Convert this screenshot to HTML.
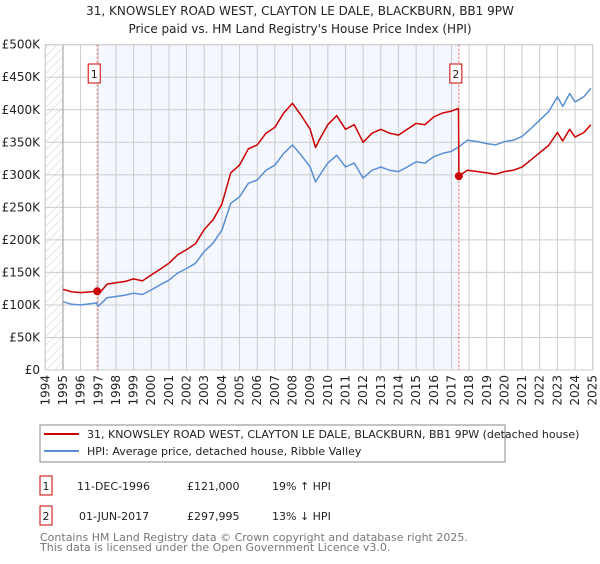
<!DOCTYPE html>
<html><head><meta charset="utf-8"><style>
body{margin:0;background:#fff;width:600px;height:560px;overflow:hidden;font-family:"DejaVu Sans","Liberation Sans",sans-serif;}
svg text{font-family:"DejaVu Sans","Liberation Sans",sans-serif;}
</style></head><body>
<svg id="chart" width="600" height="560" xmlns="http://www.w3.org/2000/svg">
<defs><pattern id="hatch" width="6" height="6" patternUnits="userSpaceOnUse" patternTransform="rotate(45)"><line x1="0" y1="0" x2="0" y2="6" stroke="#ccc" stroke-width="1"/></pattern></defs>
<text x="300" y="15" text-anchor="middle" font-size="12" fill="#222">31, KNOWSLEY ROAD WEST, CLAYTON LE DALE, BLACKBURN, BB1 9PW</text>
<text x="300" y="33" text-anchor="middle" font-size="12" fill="#222">Price paid vs. HM Land Registry's House Price Index (HPI)</text>
<g id="plot"></g>
<rect x="40" y="425" width="465" height="37" fill="none" stroke="#888"/>
<line x1="44" y1="434" x2="79" y2="434" stroke="#cc0000" stroke-width="2"/>
<text x="87" y="438" font-size="11" fill="#222">31, KNOWSLEY ROAD WEST, CLAYTON LE DALE, BLACKBURN, BB1 9PW (detached house)</text>
<line x1="44" y1="451" x2="79" y2="451" stroke="#5b8fd4" stroke-width="2"/>
<text x="87" y="455" font-size="11" fill="#222">HPI: Average price, detached house, Ribble Valley</text>
<g>
<rect x="40" y="476" width="12" height="19" fill="none" stroke="#cc0000"/>
<text x="46" y="490" text-anchor="middle" font-size="11" fill="#222">1</text>
<text x="77" y="490" font-size="11" fill="#222">11-DEC-1996</text>
<text x="187" y="490" font-size="11" fill="#222">£121,000</text>
<text x="272" y="490" font-size="11" fill="#222">19% ↑ HPI</text></g>
<g>
<rect x="40" y="506" width="12" height="19" fill="none" stroke="#cc0000"/>
<text x="46" y="520" text-anchor="middle" font-size="11" fill="#222">2</text>
<text x="79" y="520" font-size="11" fill="#222">01-JUN-2017</text>
<text x="187" y="520" font-size="11" fill="#222">£297,995</text>
<text x="272" y="520" font-size="11" fill="#222">13% ↓ HPI</text></g>
<text x="40" y="541" font-size="11" fill="#777">Contains HM Land Registry data © Crown copyright and database right 2025.</text>
<text x="40" y="551" font-size="11" fill="#777">This data is licensed under the Open Government Licence v3.0.</text>
</svg>
<script>
const hpiDates=[1995.0,1995.5,1996.0,1996.9,1997.0,1997.5,1998.0,1998.5,1999.0,1999.5,2000.0,2000.5,2001.0,2001.5,2002.0,2002.5,2003.0,2003.5,2004.0,2004.5,2005.0,2005.5,2006.0,2006.5,2007.0,2007.5,2008.0,2008.5,2009.0,2009.3,2009.6,2010.0,2010.5,2011.0,2011.5,2012.0,2012.5,2013.0,2013.5,2014.0,2014.5,2015.0,2015.5,2016.0,2016.5,2017.0,2017.42,2017.9,2018.5,2019.0,2019.5,2020.0,2020.5,2021.0,2021.5,2022.0,2022.5,2023.0,2023.3,2023.7,2024.0,2024.5,2024.9];
const hpiValues=[105,101,100,103,98,111,113,115,118,116,123,131,138,149,156,164,182,195,215,256,266,287,292,307,315,333,346,330,312,289,302,318,330,312,318,295,307,312,307,305,312,320,318,328,333,336,343,353,351,348,346,351,353,359,371,384,397,420,405,425,412,420,433];
const propDates=[1995.0,1995.5,1996.0,1996.94,1997.0,1997.5,1998.0,1998.5,1999.0,1999.5,2000.0,2000.5,2001.0,2001.5,2002.0,2002.5,2003.0,2003.5,2004.0,2004.5,2005.0,2005.5,2006.0,2006.5,2007.0,2007.5,2008.0,2008.5,2009.0,2009.3,2009.6,2010.0,2010.5,2011.0,2011.5,2012.0,2012.5,2013.0,2013.5,2014.0,2014.5,2015.0,2015.5,2016.0,2016.5,2017.0,2017.40,2017.42,2017.9,2018.5,2019.0,2019.5,2020.0,2020.5,2021.0,2021.5,2022.0,2022.5,2023.0,2023.3,2023.7,2024.0,2024.5,2024.9];
const propValues=[124,120,119,121,116,132,134,136,140,137,146,155,164,177,185,194,216,231,255,303,315,340,346,364,373,395,410,391,370,342,358,377,391,370,377,350,364,370,364,361,370,379,377,389,395,398,402,298,307,305,303,301,305,307,312,323,334,345,365,352,370,358,365,377];
const saleDates=[1996.94,2017.42];
const salePrices=[121,297.995];
const saleLabels=["1","2"];
const yTicks=[0,50,100,150,200,250,300,350,400,450,500];
const yTickLabels=["£0","£50K","£100K","£150K","£200K","£250K","£300K","£350K","£400K","£450K","£500K"];
const xYears=[1994,1995,1996,1997,1998,1999,2000,2001,2002,2003,2004,2005,2006,2007,2008,2009,2010,2011,2012,2013,2014,2015,2016,2017,2018,2019,2020,2021,2022,2023,2024,2025];

const L=45.3,R=592.7,T=44.7,B=370;
const x=v=>L+(v-1994)/31*(R-L);
const y=v=>B-v/500*(B-T);
const NS="http://www.w3.org/2000/svg";
const g=document.getElementById('plot');
function mk(tag,attrs,parent){const e=document.createElementNS(NS,tag);for(const k in attrs)e.setAttribute(k,attrs[k]);(parent||g).appendChild(e);return e;}

let e=mk('rect',{x:x(saleDates[0]),y:T,width:x(saleDates[1])-x(saleDates[0]),height:B-T,fill:'#f4f7fe'});


e=mk('rect',{x:L,y:T,width:x(1995)-L,height:B-T,fill:'url(#hatch)'});



yTicks.forEach((t,i)=>{
  let ln=mk('line',{x1:L,x2:R,y1:y(t),y2:y(t),stroke:'#cccccc','stroke-width':1});
  
  
  let tx=mk('text',{x:40,y:y(t)+4,'text-anchor':'end','font-size':12,fill:'#222'});
  tx.textContent=yTickLabels[i];
  
  
});
xYears.forEach(yr=>{
  let ln=mk('line',{x1:x(yr),x2:x(yr),y1:T,y2:B,stroke:'#cccccc','stroke-width':1});
  
  
  let tx=mk('text',{x:0,y:0,'text-anchor':'end','font-size':12,fill:'#222',transform:`translate(${x(yr)+4},375) rotate(-90)`});
  tx.textContent=yr;
  
  
});
e=mk('line',{x1:x(1995),x2:x(1995),y1:T,y2:B,stroke:'#999'});


e=mk('rect',{x:L,y:T,width:R-L,height:B-T,fill:'none',stroke:'#cccccc'});



saleDates.forEach((d,i)=>{
  let ln=mk('line',{x1:x(d),x2:x(d),y1:T,y2:B,stroke:'#e06060','stroke-dasharray':'2,2','stroke-width':1});
  
  
});

const pts=(ds,vs)=>ds.map((d,i)=>x(d).toFixed(1)+','+y(vs[i]).toFixed(1)).join(' ');
e=mk('polyline',{points:pts(hpiDates,hpiValues),fill:'none',stroke:'#5b8fd4','stroke-width':1.5,'stroke-linejoin':'round'});


e=mk('polyline',{points:pts(propDates,propValues),fill:'none',stroke:'#cc0000','stroke-width':1.5,'stroke-linejoin':'round'});



saleDates.forEach((d,i)=>{
  let c=mk('circle',{cx:x(d),cy:y(salePrices[i]),r:4,fill:'#cc0000'});
  
  
  let bx=x(d)-3;
  let r=mk('rect',{x:bx-6,y:64,width:12,height:19,fill:'#fff',stroke:'#cc0000'});
  
  
  let t=mk('text',{x:bx,y:78,'text-anchor':'middle','font-size':11,fill:'#222'});
  t.textContent=saleLabels[i];
  
  
});
</script>
</body></html>
